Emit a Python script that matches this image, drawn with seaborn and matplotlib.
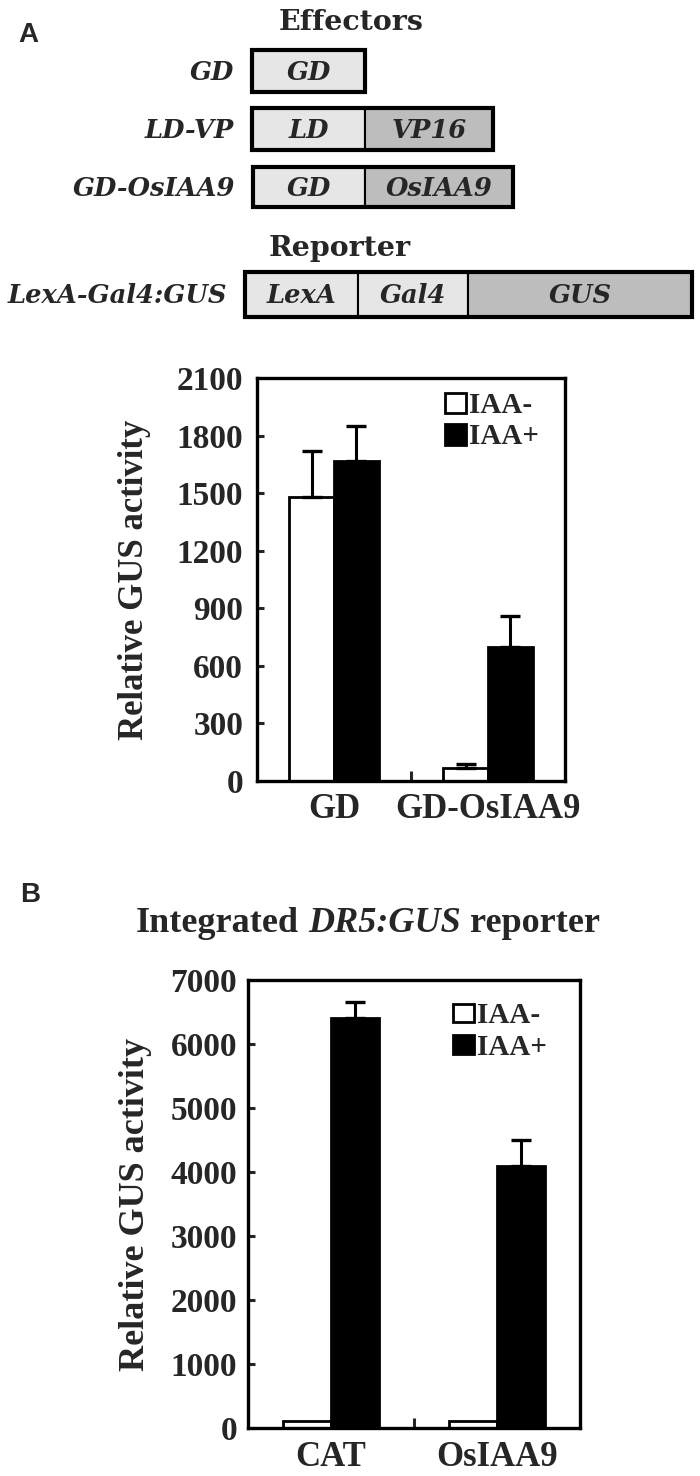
import numpy as np
import pandas as pd
import matplotlib
matplotlib.use('Agg')
import matplotlib.pyplot as plt
from matplotlib.patches import Rectangle, Patch
import seaborn as sns

# ---- data -------------------------------------------------------------
effector_names = ['GD', 'LD-VP', 'GD-OsIAA9']
effector_domains = [['GD'], ['LD', 'VP16'], ['GD', 'OsIAA9']]
effector_lengths = [[113], [113, 128], [112, 148]]
reporter_name = 'LexA-Gal4:GUS'
reporter_domains = ['LexA', 'Gal4', 'GUS']
reporter_lengths = [113, 110, 224]

treatments = ['IAA-', 'IAA+']

a_groups = ['GD', 'GD-OsIAA9']
a_minus = [1480, 70]
a_minus_err = [240, 20]
a_plus = [1670, 700]
a_plus_err = [180, 160]
a_yticks = [0, 300, 600, 900, 1200, 1500, 1800, 2100]

b_groups = ['CAT', 'OsIAA9']
b_minus = [110, 110]
b_minus_err = [0, 0]
b_plus = [6400, 4100]
b_plus_err = [260, 400]
b_yticks = [0, 1000, 2000, 3000, 4000, 5000, 6000, 7000]

# ---- style ------------------------------------------------------------
sns.set_style('ticks')
plt.rcParams['font.family'] = ['Liberation Serif', 'DejaVu Serif']
plt.rcParams['font.weight'] = 'bold'
plt.rcParams['axes.labelweight'] = 'bold'

W, H = 700, 1476
fig = plt.figure(figsize=(W / 100, H / 100), dpi=100)

light = '#e6e6e6'
dark = '#bdbdbd'
shade = {'GD': light, 'LD': light, 'LexA': light, 'Gal4': light,
         'VP16': dark, 'OsIAA9': dark, 'GUS': dark}
schem_font = dict(family='DejaVu Serif', weight='bold', style='italic', fontsize=18.5)


def draw_construct(ax, name, domains, lengths, x0, top, h):
    x = x0
    for dom, ln in zip(domains, lengths):
        ax.add_patch(Rectangle((x, top), ln, h, facecolor=shade[dom],
                               edgecolor='black', lw=1.5))
        ax.text(x + ln / 2, top + h / 2 + 1, dom, ha='center', va='center', **schem_font)
        x += ln
    ax.add_patch(Rectangle((x0, top), sum(lengths), h, facecolor='none',
                           edgecolor='black', lw=3.0))
    ax.text(x0 - 18, top + h / 2 + 1, name, ha='right', va='center', **schem_font)


# ---- schematic --------------------------------------------------------
ax_d = fig.add_axes([0, 1 - 330 / H, 1, 330 / H])
ax_d.set_xlim(0, W)
ax_d.set_ylim(330, 0)
ax_d.axis('off')

ax_d.text(18, 35, 'A', family='Liberation Sans', weight='bold', fontsize=20,
          ha='left', va='center')
ax_d.text(351, 22, 'Effectors', family='DejaVu Serif', weight='bold',
          fontsize=20.5, ha='center', va='center')
row_x = [252, 252, 253]
row_top = [50, 108, 167]
row_h = [42, 42, 40]
for i, name in enumerate(effector_names):
    draw_construct(ax_d, name, effector_domains[i], effector_lengths[i],
                   row_x[i], row_top[i], row_h[i])
ax_d.text(340, 249, 'Reporter', family='DejaVu Serif', weight='bold',
          fontsize=20.5, ha='center', va='center')
draw_construct(ax_d, reporter_name, reporter_domains, reporter_lengths, 245, 272, 45)


# ---- bar charts -------------------------------------------------------
def bar_panel(ax, groups, minus, minus_err, plus, plus_err, yticks,
              ylabel_x, ylab_size, tick_pad, leg_anchor, leg_hh):
    df = pd.DataFrame({
        'group': groups * 2,
        'treatment': [treatments[0]] * len(groups) + [treatments[1]] * len(groups),
        'value': minus + plus,
    })
    sns.barplot(data=df, x='group', y='value', hue='treatment',
                hue_order=treatments, order=groups,
                palette={'IAA-': 'white', 'IAA+': 'black'},
                edgecolor='black', linewidth=2.0, width=0.58, gap=0,
                errorbar=None, legend=False, ax=ax)
    for cont, errs in zip(ax.containers, [minus_err, plus_err]):
        for bar, e in zip(cont, errs):
            if e <= 0:
                continue
            xc = bar.get_x() + bar.get_width() / 2
            ax.errorbar([xc], [bar.get_height()], yerr=[[0], [e]], fmt='none',
                        ecolor='black', elinewidth=2.2, capsize=7,
                        capthick=2.4, zorder=1)
    ax.set_xlim(-0.5, 1.5)
    ax.set_ylim(yticks[0], yticks[-1])
    ax.set_yticks(yticks)
    ax.set_xticks([0.5], minor=True)
    ax.tick_params(axis='y', direction='in', length=5, width=2.2,
                   labelsize=24, pad=tick_pad)
    ax.tick_params(axis='x', which='major', length=0, labelsize=25, pad=9)
    ax.tick_params(axis='x', which='minor', direction='in', length=7, width=2.2)
    for s in ax.spines.values():
        s.set_linewidth(2.4)
        s.set_color('black')
    ax.set_xlabel('')
    ax.set_ylabel('Relative GUS activity', fontsize=ylab_size, weight='bold')
    ax.yaxis.set_label_coords(ylabel_x, 0.5)
    handles = [Patch(facecolor='white', edgecolor='black', lw=2.0),
               Patch(facecolor='black', edgecolor='black', lw=2.0)]
    ax.legend(handles, treatments, loc='upper left', bbox_to_anchor=leg_anchor,
              frameon=False, fontsize=21, handlelength=0.7, handleheight=leg_hh,
              handletextpad=0.1, labelspacing=0.15, borderpad=0, borderaxespad=0)


ax_a = fig.add_axes([257 / W, 1 - 781 / H, 308 / W, 403 / H])
bar_panel(ax_a, a_groups, a_minus, a_minus_err, a_plus, a_plus_err, a_yticks,
          -0.345, 25, 10, (0.612, 0.965), 0.72)

ax_b = fig.add_axes([248 / W, 1 - 1428 / H, 332 / W, 448 / H])
bar_panel(ax_b, b_groups, b_minus, b_minus_err, b_plus, b_plus_err, b_yticks,
          -0.29, 26, 8, (0.618, 0.95), 0.6)

fig.text(20 / W, 1 - 895 / H, 'B', family='Liberation Sans', weight='bold',
         fontsize=20, ha='left', va='center')

# mixed-style title for panel B
title_parts = [('Integrated', 'normal'), ('DR5:GUS', 'italic'), ('reporter', 'normal')]
title_size = 26
rend = fig.canvas.get_renderer()
widths = []
for txt, st in title_parts:
    t = fig.text(0, 0, txt, fontsize=title_size, fontstyle=st, weight='bold')
    widths.append(t.get_window_extent(rend).width)
    t.remove()
gap = 0.25 * title_size * 100 / 72
xpos = 368 - (sum(widths) + gap * (len(widths) - 1)) / 2
for (txt, st), w in zip(title_parts, widths):
    fig.text(xpos / W, 1 - 924 / H, txt, fontsize=title_size, fontstyle=st,
             weight='bold', ha='left', va='center')
    xpos += w + gap

fig.savefig('out.png', dpi=100)
plt.close(fig)
